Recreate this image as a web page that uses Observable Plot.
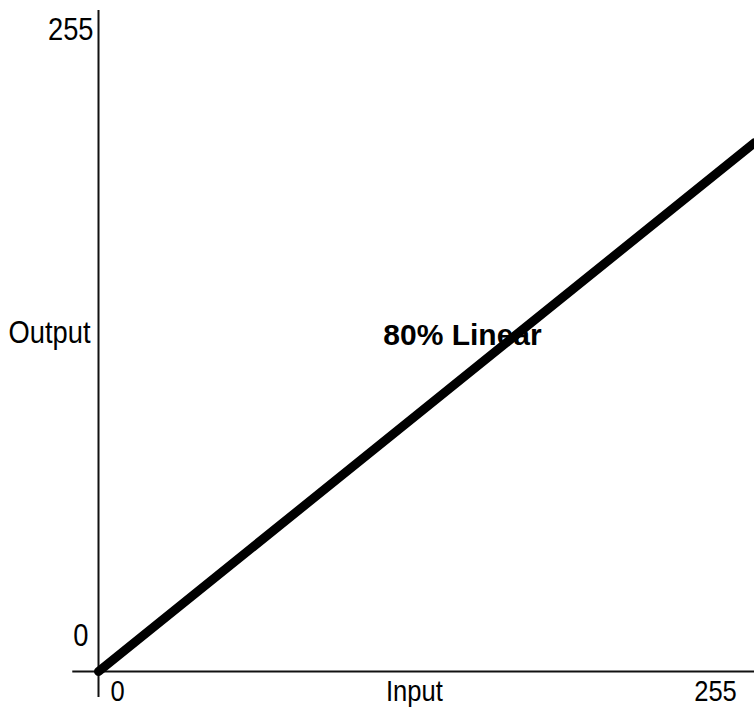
<!DOCTYPE html>
<html>
<head>
<meta charset="utf-8">
<script src="https://cdn.jsdelivr.net/npm/d3@7"></script>
<script src="https://cdn.jsdelivr.net/npm/@observablehq/plot@0.6"></script>
<style>
  html, body { margin: 0; padding: 0; background: #fff; }
  #chart svg { display: block; }
</style>
</head>
<body>
<div id="chart"></div>
<script>
// Data
const inputValues = [0, 255];
const outputValues = [0, 204]; // 80% linear
const xTickValues = [0, 255];
const xTickLabels = ["0", "255"];
const yTickValues = [0, 255];
const yTickLabels = ["0", "255"];
const xAxisTitle = "Input";
const yAxisTitle = "Output";
const curveLabel = "80% Linear";

const curve = inputValues.map((v, i) => ({input: v, output: outputValues[i]}));
const font = "'Liberation Sans', Arial, sans-serif";
const fs = 31;
const fsBottom = 29;
const axisExt = -10;

const chart = Plot.plot({
  width: 754,
  height: 707,
  marginLeft: 98,
  marginRight: 0,
  marginTop: 10,
  marginBottom: 36,
  x: {domain: [0, 255], axis: null},
  y: {domain: [0, 255], axis: null},
  style: {background: "#fff", overflow: "visible"},
  marks: [
    Plot.ruleX([0], {y1: axisExt, y2: 255, stroke: "#111", strokeWidth: 2}),
    Plot.ruleY([0], {x1: axisExt, x2: 255, stroke: "#111", strokeWidth: 2}),
    Plot.line(curve, {x: "input", y: "output", stroke: "#000", strokeWidth: 9, strokeLinecap: "round"}),
    // y tick labels
    Plot.text([yTickValues[1]], {x: 0, y: d => d, text: [yTickLabels[1]], textAnchor: "end", lineAnchor: "bottom",
      dx: -5, dy: 29, fontFamily: font, fontSize: fs, fill: "#000", className: "narrow"}),
    Plot.text([yTickValues[0]], {x: 0, y: d => d, text: [yTickLabels[0]], textAnchor: "end", lineAnchor: "bottom",
      dx: -10, dy: -26, fontFamily: font, fontSize: fs, fill: "#000", className: "narrow"}),
    // x tick labels
    Plot.text([xTickValues[0]], {x: d => d, y: 0, text: [xTickLabels[0]], lineAnchor: "bottom", dx: 19, dy: 29,
      fontFamily: font, fontSize: fsBottom, fill: "#000", className: "narrow"}),
    Plot.text([xTickValues[1]], {x: d => d, y: 0, text: [xTickLabels[1]], lineAnchor: "bottom", dx: -39, dy: 29,
      fontFamily: font, fontSize: fsBottom, fill: "#000", className: "narrow"}),
    // axis titles
    Plot.text([xAxisTitle], {x: 122.8, y: 0, text: d => d, lineAnchor: "bottom", dy: 29,
      fontFamily: font, fontSize: fsBottom, fill: "#000", className: "narrow"}),
    Plot.text([yAxisTitle], {x: 0, y: 130.4, text: d => d, textAnchor: "end", dx: -8,
      fontFamily: font, fontSize: fs, fill: "#000", className: "narrow"}),
    // curve label
    Plot.text([curveLabel], {x: 141.5, y: 129.6, text: d => d,
      fontFamily: font, fontWeight: "bold", fontSize: 30, fill: "#000"})
  ]
});
document.getElementById("chart").appendChild(chart);
// condense the regular labels to mimic a narrow system font
chart.querySelectorAll("g.narrow text").forEach(t => {
  const len = t.getComputedTextLength();
  t.setAttribute("textLength", (len * 0.88).toFixed(1));
  t.setAttribute("lengthAdjust", "spacingAndGlyphs");
});
</script>
</body>
</html>
